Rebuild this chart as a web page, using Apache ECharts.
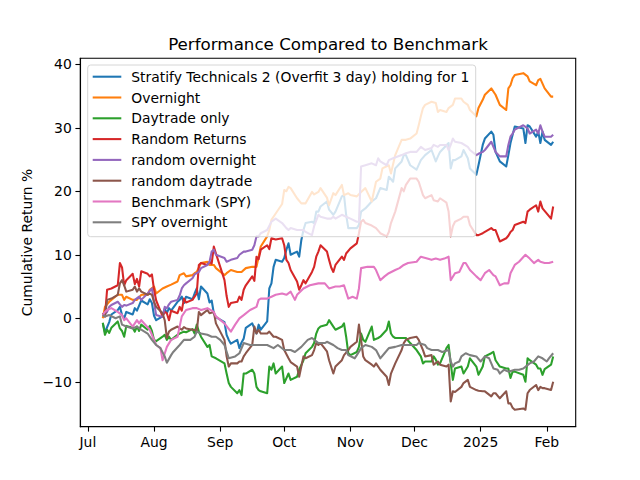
<!DOCTYPE html>
<html><head><meta charset="utf-8">
<script src="https://cdn.jsdelivr.net/npm/echarts@6/dist/echarts.min.js"></script>
<style>html,body{margin:0;padding:0;background:#fff}#c{width:640px;height:480px}</style>
</head><body><div id="c"></div>
<script>
const chartTitle = 'Performance Compared to Benchmark';
const yAxisTitle = 'Cumulative Return %';
const seriesNames = ['Stratify Technicals 2 (Overfit 3 day) holding for 1','Overnight','Daytrade only','Random Returns','random overnight','random daytrade','Benchmark (SPY)','SPY overnight'];
const xTickDates = ['2024-07-01','2024-08-01','2024-09-01','2024-10-01','2024-11-01','2024-12-01','2025-01-01','2025-02-01'];
const xTickLabels = ['Jul','Aug','Sep','Oct','Nov','Dec','2025','Feb'];
const yTicks = [-10,0,10,20,30,40];

const stratify = [['2024-07-08',-0.8],['2024-07-09',-2.2],['2024-07-11',-0.6],['2024-07-12',0.6],['2024-07-15',1.3],['2024-07-16',1.8],['2024-07-17',0.5],['2024-07-18',0.0],['2024-07-19',1.0],['2024-07-22',0.6],['2024-07-23',1.6],['2024-07-24',1.2],['2024-07-25',2.0],['2024-07-26',2.8],['2024-07-29',2.2],['2024-07-30',3.0],['2024-07-31',2.4],['2024-08-01',0.4],['2024-08-02',-0.3],['2024-08-05',0.3],['2024-08-06',1.5],['2024-08-07',0.8],['2024-08-08',1.6],['2024-08-09',1.2],['2024-08-12',2.6],['2024-08-13',2.9],['2024-08-14',3.4],['2024-08-15',2.4],['2024-08-16',3.4],['2024-08-19',3.0],['2024-08-20',3.9],['2024-08-21',4.7],['2024-08-22',3.0],['2024-08-23',5.0],['2024-08-26',3.9],['2024-08-27',2.5],['2024-08-28',2.8],['2024-08-29',0.8],['2024-08-30',0.2],['2024-09-03',-0.6],['2024-09-04',-2.6],['2024-09-05',-3.4],['2024-09-06',-4.0],['2024-09-09',-3.4],['2024-09-10',-4.7],['2024-09-11',-3.8],['2024-09-12',-3.2],['2024-09-13',-1.5],['2024-09-16',-0.8],['2024-09-17',-1.6],['2024-09-18',-2.4],['2024-09-19',-1.0],['2024-09-20',-1.8],['2024-09-23',-0.5],['2024-09-24',4.7],['2024-09-25',5.5],['2024-09-26',8.1],['2024-09-27',9.2],['2024-09-30',8.9],['2024-10-01',9.5],['2024-10-02',10.8],['2024-10-03',11.8],['2024-10-04',10.0],['2024-10-07',10.5],['2024-10-08',9.7],['2024-10-09',12.3],['2024-10-10',13.9],['2024-10-11',15.0],['2024-10-14',15.2],['2024-10-15',15.0],['2024-10-16',16.8],['2024-10-17',16.8],['2024-10-18',17.6],['2024-10-21',18.4],['2024-10-22',17.1],['2024-10-24',16.3],['2024-10-25',16.8],['2024-10-28',19.2],['2024-10-29',19.4],['2024-10-30',16.3],['2024-10-31',14.2],['2024-11-01',14.2],['2024-11-04',14.2],['2024-11-05',14.7],['2024-11-06',16.8],['2024-11-08',17.3],['2024-11-11',18.4],['2024-11-13',18.9],['2024-11-15',20.5],['2024-11-18',20.2],['2024-11-19',22.3],['2024-11-21',21.5],['2024-11-22',23.6],['2024-11-25',24.7],['2024-11-26',25.7],['2024-11-27',25.7],['2024-11-29',24.1],['2024-12-02',23.4],['2024-12-04',24.9],['2024-12-06',25.7],['2024-12-09',26.5],['2024-12-11',24.7],['2024-12-12',25.5],['2024-12-13',26.2],['2024-12-17',27.6],['2024-12-18',23.6],['2024-12-19',24.9],['2024-12-20',24.9],['2024-12-23',25.5],['2024-12-24',26.5],['2024-12-26',25.2],['2024-12-27',23.6],['2024-12-30',22.6],['2024-12-31',24.1],['2025-01-02',27.3],['2025-01-03',28.3],['2025-01-06',29.4],['2025-01-07',28.9],['2025-01-08',26.2],['2025-01-10',24.7],['2025-01-13',23.9],['2025-01-14',25.7],['2025-01-15',27.6],['2025-01-16',28.9],['2025-01-17',30.2],['2025-01-21',29.9],['2025-01-22',27.6],['2025-01-23',30.4],['2025-01-24',30.2],['2025-01-27',28.6],['2025-01-28',29.4],['2025-01-29',27.6],['2025-01-30',29.4],['2025-01-31',28.1],['2025-02-03',27.3],['2025-02-04',27.8]];

const overnight = [['2024-07-08',0.0],['2024-07-09',1.8],['2024-07-11',2.6],['2024-07-12',2.9],['2024-07-15',3.7],['2024-07-17',3.7],['2024-07-18',2.9],['2024-07-19',3.4],['2024-07-22',2.9],['2024-07-24',2.9],['2024-07-26',3.7],['2024-07-29',3.7],['2024-07-30',4.5],['2024-08-01',5.0],['2024-08-02',3.9],['2024-08-05',4.7],['2024-08-07',5.0],['2024-08-09',5.3],['2024-08-12',5.8],['2024-08-13',6.8],['2024-08-15',7.1],['2024-08-16',6.6],['2024-08-19',6.8],['2024-08-20',7.1],['2024-08-21',7.3],['2024-08-22',8.0],['2024-08-23',8.7],['2024-08-26',8.9],['2024-08-27',8.4],['2024-08-29',8.4],['2024-08-30',7.9],['2024-09-03',6.8],['2024-09-04',7.1],['2024-09-06',7.6],['2024-09-09',7.3],['2024-09-11',7.3],['2024-09-13',7.9],['2024-09-16',8.1],['2024-09-18',8.1],['2024-09-19',9.7],['2024-09-20',11.3],['2024-09-23',12.9],['2024-09-24',13.9],['2024-09-25',15.5],['2024-09-27',16.5],['2024-09-30',18.0],['2024-10-01',20.2],['2024-10-02',20.0],['2024-10-03',20.7],['2024-10-04',20.5],['2024-10-07',18.9],['2024-10-09',18.1],['2024-10-11',18.1],['2024-10-14',19.9],['2024-10-15',19.5],['2024-10-17',19.9],['2024-10-18',20.5],['2024-10-21',19.0],['2024-10-22',17.8],['2024-10-24',19.7],['2024-10-25',19.4],['2024-10-28',21.0],['2024-10-29',19.4],['2024-10-31',19.7],['2024-11-01',19.4],['2024-11-04',19.2],['2024-11-06',19.9],['2024-11-08',20.5],['2024-11-11',18.4],['2024-11-13',21.5],['2024-11-15',22.0],['2024-11-16',23.6],['2024-11-19',24.1],['2024-11-20',22.8],['2024-11-22',25.7],['2024-11-25',28.1],['2024-11-27',28.1],['2024-11-29',28.3],['2024-12-02',29.1],['2024-12-03',30.4],['2024-12-04',31.8],['2024-12-05',33.1],['2024-12-06',33.6],['2024-12-09',34.1],['2024-12-11',33.9],['2024-12-12',32.5],['2024-12-13',32.8],['2024-12-16',32.5],['2024-12-17',33.1],['2024-12-19',33.6],['2024-12-20',34.6],['2024-12-23',34.6],['2024-12-24',34.1],['2024-12-26',33.6],['2024-12-27',32.8],['2024-12-30',31.8],['2024-12-31',33.1],['2025-01-02',34.4],['2025-01-03',35.2],['2025-01-06',36.2],['2025-01-08',35.2],['2025-01-10',33.6],['2025-01-13',32.8],['2025-01-14',36.2],['2025-01-15',36.7],['2025-01-16',37.8],['2025-01-17',38.3],['2025-01-21',38.6],['2025-01-23',38.1],['2025-01-24',37.3],['2025-01-27',36.7],['2025-01-28',37.5],['2025-01-29',37.7],['2025-01-31',36.2],['2025-02-03',34.9],['2025-02-04',34.9]];

const daytrade = [['2024-07-08',-0.7],['2024-07-09',-2.6],['2024-07-10',-1.8],['2024-07-11',-2.3],['2024-07-12',-1.5],['2024-07-15',-0.5],['2024-07-16',-1.6],['2024-07-17',-2.0],['2024-07-18',-2.9],['2024-07-19',-1.2],['2024-07-22',-1.5],['2024-07-23',-2.1],['2024-07-24',-1.3],['2024-07-25',-2.0],['2024-07-26',-1.0],['2024-07-29',-1.8],['2024-07-30',-1.2],['2024-07-31',-2.0],['2024-08-01',-3.4],['2024-08-02',-3.6],['2024-08-05',-2.9],['2024-08-06',-2.6],['2024-08-07',-3.4],['2024-08-08',-2.9],['2024-08-09',-3.4],['2024-08-12',-2.6],['2024-08-13',-2.4],['2024-08-15',-2.1],['2024-08-16',-2.2],['2024-08-19',-1.7],['2024-08-20',-2.4],['2024-08-21',-1.0],['2024-08-22',-2.1],['2024-08-23',-2.9],['2024-08-26',-4.5],['2024-08-27',-4.2],['2024-08-28',-6.0],['2024-08-30',-6.3],['2024-09-03',-7.1],['2024-09-04',-8.7],['2024-09-05',-10.2],['2024-09-06',-10.8],['2024-09-09',-11.8],['2024-09-10',-11.3],['2024-09-11',-12.1],['2024-09-12',-8.7],['2024-09-13',-8.7],['2024-09-16',-8.1],['2024-09-17',-8.7],['2024-09-18',-10.8],['2024-09-19',-11.3],['2024-09-20',-11.5],['2024-09-23',-11.8],['2024-09-24',-7.6],['2024-09-25',-8.1],['2024-09-26',-7.1],['2024-09-27',-8.7],['2024-09-30',-7.6],['2024-10-01',-10.2],['2024-10-03',-8.7],['2024-10-04',-9.7],['2024-10-07',-9.2],['2024-10-08',-8.1],['2024-10-10',-6.6],['2024-10-11',-5.5],['2024-10-14',-4.5],['2024-10-15',-3.9],['2024-10-16',-2.4],['2024-10-17',-1.6],['2024-10-18',-1.3],['2024-10-21',-1.0],['2024-10-22',-0.3],['2024-10-24',-1.3],['2024-10-25',-1.8],['2024-10-28',-1.3],['2024-10-29',-0.8],['2024-10-30',-2.9],['2024-10-31',-5.5],['2024-11-01',-5.8],['2024-11-04',-5.3],['2024-11-05',-4.5],['2024-11-06',-2.4],['2024-11-07',-3.4],['2024-11-08',-3.7],['2024-11-11',-1.3],['2024-11-12',-3.4],['2024-11-14',-3.1],['2024-11-15',-2.9],['2024-11-18',-1.8],['2024-11-19',-0.5],['2024-11-20',-2.4],['2024-11-21',-2.9],['2024-11-22',-3.1],['2024-11-25',-3.1],['2024-11-27',-3.1],['2024-11-29',-3.9],['2024-12-02',-5.0],['2024-12-04',-6.0],['2024-12-05',-7.1],['2024-12-06',-6.8],['2024-12-09',-6.8],['2024-12-10',-6.0],['2024-12-11',-6.5],['2024-12-12',-7.3],['2024-12-13',-7.1],['2024-12-16',-4.7],['2024-12-17',-4.2],['2024-12-18',-7.1],['2024-12-19',-9.7],['2024-12-20',-7.9],['2024-12-23',-7.6],['2024-12-24',-8.7],['2024-12-26',-7.6],['2024-12-27',-6.3],['2024-12-30',-7.6],['2024-12-31',-8.9],['2025-01-02',-7.6],['2025-01-03',-6.0],['2025-01-06',-5.5],['2025-01-07',-5.3],['2025-01-08',-6.6],['2025-01-10',-7.6],['2025-01-13',-7.9],['2025-01-14',-7.9],['2025-01-15',-9.4],['2025-01-16',-8.4],['2025-01-17',-8.4],['2025-01-21',-8.9],['2025-01-22',-10.0],['2025-01-23',-6.3],['2025-01-24',-6.6],['2025-01-27',-7.3],['2025-01-28',-7.9],['2025-01-29',-7.9],['2025-01-30',-8.9],['2025-01-31',-8.0],['2025-02-03',-7.3],['2025-02-04',-6.0]];

const randomReturns = [['2024-07-08',0.8],['2024-07-09',0.3],['2024-07-10',4.5],['2024-07-12',4.7],['2024-07-15',5.2],['2024-07-16',8.7],['2024-07-17',8.0],['2024-07-18',5.2],['2024-07-19',6.0],['2024-07-22',7.0],['2024-07-23',5.4],['2024-07-24',6.2],['2024-07-25',5.0],['2024-07-26',7.4],['2024-07-29',7.0],['2024-07-30',6.6],['2024-07-31',6.9],['2024-08-01',4.5],['2024-08-02',2.8],['2024-08-05',0.3],['2024-08-06',1.0],['2024-08-07',0.8],['2024-08-08',-0.3],['2024-08-09',1.2],['2024-08-12',0.8],['2024-08-13',1.8],['2024-08-14',1.2],['2024-08-15',3.1],['2024-08-16',2.5],['2024-08-19',2.9],['2024-08-20',3.4],['2024-08-21',3.9],['2024-08-22',8.4],['2024-08-23',8.7],['2024-08-26',8.4],['2024-08-27',8.9],['2024-08-28',8.6],['2024-08-29',11.3],['2024-08-30',10.2],['2024-09-03',6.0],['2024-09-04',3.5],['2024-09-05',1.8],['2024-09-06',2.4],['2024-09-09',2.6],['2024-09-10',3.4],['2024-09-11',2.9],['2024-09-12',4.5],['2024-09-13',5.2],['2024-09-16',6.6],['2024-09-17',5.9],['2024-09-18',9.7],['2024-09-19',9.3],['2024-09-20',10.8],['2024-09-23',11.5],['2024-09-24',10.9],['2024-09-25',12.6],['2024-09-27',12.4],['2024-09-30',12.6],['2024-10-01',11.5],['2024-10-02',9.2],['2024-10-03',8.7],['2024-10-04',7.6],['2024-10-07',5.8],['2024-10-08',4.5],['2024-10-09',5.2],['2024-10-10',6.0],['2024-10-11',5.5],['2024-10-14',7.3],['2024-10-15',8.1],['2024-10-16',9.7],['2024-10-17',10.5],['2024-10-18',11.5],['2024-10-21',10.5],['2024-10-22',9.2],['2024-10-23',8.0],['2024-10-24',7.3],['2024-10-25',8.4],['2024-10-28',9.7],['2024-10-29',9.2],['2024-10-30',10.2],['2024-11-01',11.0],['2024-11-04',11.8],['2024-11-05',13.4],['2024-11-06',15.2],['2024-11-07',15.5],['2024-11-08',15.0],['2024-11-11',14.6],['2024-11-13',14.2],['2024-11-15',13.4],['2024-11-18',12.9],['2024-11-19',13.6],['2024-11-20',15.0],['2024-11-22',16.8],['2024-11-25',20.5],['2024-11-26',20.0],['2024-11-27',21.0],['2024-11-29',22.0],['2024-12-02',22.0],['2024-12-03',21.5],['2024-12-05',19.4],['2024-12-06',18.9],['2024-12-09',19.4],['2024-12-10',18.6],['2024-12-12',18.4],['2024-12-13',18.9],['2024-12-16',18.2],['2024-12-17',16.8],['2024-12-18',12.9],['2024-12-19',14.5],['2024-12-20',15.2],['2024-12-23',15.7],['2024-12-24',16.0],['2024-12-26',16.0],['2024-12-27',14.7],['2024-12-30',13.1],['2024-12-31',13.1],['2025-01-02',13.4],['2025-01-03',13.6],['2025-01-06',14.2],['2025-01-07',13.9],['2025-01-08',13.9],['2025-01-10',12.1],['2025-01-13',12.6],['2025-01-14',13.0],['2025-01-15',13.6],['2025-01-16',13.9],['2025-01-17',14.7],['2025-01-21',15.2],['2025-01-22',15.0],['2025-01-23',16.8],['2025-01-24',17.1],['2025-01-27',17.8],['2025-01-28',16.8],['2025-01-29',18.4],['2025-01-30',17.3],['2025-02-03',15.7],['2025-02-04',17.6]];

const randomOvernight = [['2024-07-08',0.3],['2024-07-10',1.0],['2024-07-11',1.8],['2024-07-12',2.1],['2024-07-15',2.6],['2024-07-16',2.2],['2024-07-17',1.8],['2024-07-18',2.1],['2024-07-19',2.0],['2024-07-22',2.4],['2024-07-23',2.9],['2024-07-25',3.4],['2024-07-26',2.9],['2024-07-29',3.9],['2024-07-31',4.7],['2024-08-01',2.5],['2024-08-02',0.5],['2024-08-05',0.2],['2024-08-06',1.8],['2024-08-07',1.6],['2024-08-08',2.2],['2024-08-09',2.6],['2024-08-12',2.9],['2024-08-13',3.6],['2024-08-14',4.7],['2024-08-15',5.2],['2024-08-16',5.5],['2024-08-19',6.3],['2024-08-20',6.9],['2024-08-22',7.3],['2024-08-23',7.9],['2024-08-26',8.4],['2024-08-27',8.9],['2024-08-28',10.5],['2024-08-29',10.8],['2024-08-30',10.0],['2024-09-03',9.5],['2024-09-04',8.9],['2024-09-06',9.2],['2024-09-09',9.5],['2024-09-10',10.0],['2024-09-12',10.5],['2024-09-13',10.5],['2024-09-16',10.8],['2024-09-17',11.5],['2024-09-18',12.9],['2024-09-19',12.9],['2024-09-20',13.4],['2024-09-23',13.9],['2024-09-25',15.2],['2024-09-27',15.7],['2024-09-30',15.0],['2024-10-02',14.2],['2024-10-03',13.9],['2024-10-04',14.2],['2024-10-07',13.9],['2024-10-10',13.9],['2024-10-11',13.6],['2024-10-14',13.1],['2024-10-15',14.5],['2024-10-17',16.3],['2024-10-18',16.0],['2024-10-21',15.7],['2024-10-23',15.7],['2024-10-24',16.0],['2024-10-25',15.7],['2024-10-28',16.3],['2024-10-30',16.0],['2024-11-01',15.7],['2024-11-04',15.2],['2024-11-05',15.2],['2024-11-06',23.9],['2024-11-08',24.1],['2024-11-11',24.4],['2024-11-13',24.1],['2024-11-14',25.2],['2024-11-15',24.7],['2024-11-18',24.1],['2024-11-19',24.9],['2024-11-21',25.2],['2024-11-25',25.7],['2024-11-27',26.0],['2024-11-29',26.2],['2024-12-02',26.2],['2024-12-04',27.0],['2024-12-06',26.5],['2024-12-09',26.8],['2024-12-10',27.3],['2024-12-12',27.0],['2024-12-13',27.3],['2024-12-16',27.3],['2024-12-17',26.5],['2024-12-18',27.3],['2024-12-19',28.3],['2024-12-20',27.8],['2024-12-23',27.6],['2024-12-26',27.0],['2024-12-27',26.5],['2024-12-30',25.7],['2024-12-31',25.9],['2025-01-02',26.2],['2025-01-03',26.5],['2025-01-06',27.8],['2025-01-08',26.2],['2025-01-10',25.5],['2025-01-13',25.5],['2025-01-14',27.3],['2025-01-15',28.6],['2025-01-16',29.1],['2025-01-17',29.7],['2025-01-21',30.4],['2025-01-23',29.9],['2025-01-24',29.1],['2025-01-27',29.7],['2025-01-28',29.1],['2025-01-29',30.4],['2025-01-30',29.4],['2025-01-31',28.6],['2025-02-03',28.6],['2025-02-04',28.9]];

const randomDaytrade = [['2024-07-08',0.8],['2024-07-09',0.3],['2024-07-10',2.9],['2024-07-12',3.1],['2024-07-15',3.7],['2024-07-16',5.5],['2024-07-17',6.0],['2024-07-18',5.2],['2024-07-19',4.2],['2024-07-22',4.5],['2024-07-23',5.0],['2024-07-24',4.2],['2024-07-25',4.7],['2024-07-26',4.2],['2024-07-29',3.7],['2024-07-30',3.9],['2024-07-31',3.7],['2024-08-01',2.6],['2024-08-02',1.8],['2024-08-05',0.8],['2024-08-06',-0.3],['2024-08-07',-3.1],['2024-08-08',-2.1],['2024-08-09',-1.8],['2024-08-12',-1.3],['2024-08-13',-1.6],['2024-08-14',-1.8],['2024-08-15',-1.4],['2024-08-16',-1.6],['2024-08-19',-1.8],['2024-08-20',-1.8],['2024-08-21',-2.1],['2024-08-22',1.0],['2024-08-23',0.5],['2024-08-26',1.3],['2024-08-27',0.8],['2024-08-29',1.0],['2024-08-30',-0.8],['2024-09-03',-3.4],['2024-09-04',-6.0],['2024-09-05',-7.6],['2024-09-06',-7.1],['2024-09-09',-7.1],['2024-09-10',-6.8],['2024-09-11',-6.8],['2024-09-12',-6.0],['2024-09-13',-5.5],['2024-09-16',-4.2],['2024-09-17',-1.3],['2024-09-18',-2.4],['2024-09-19',-1.8],['2024-09-20',-2.4],['2024-09-23',-2.4],['2024-09-24',-2.1],['2024-09-26',-2.9],['2024-09-27',-2.9],['2024-09-30',-3.4],['2024-10-01',-5.0],['2024-10-03',-6.3],['2024-10-04',-6.9],['2024-10-07',-7.6],['2024-10-08',-9.2],['2024-10-09',-7.6],['2024-10-10',-6.0],['2024-10-11',-6.3],['2024-10-14',-5.8],['2024-10-15',-5.0],['2024-10-16',-3.9],['2024-10-17',-4.2],['2024-10-18',-3.9],['2024-10-21',-5.2],['2024-10-22',-6.6],['2024-10-24',-8.7],['2024-10-25',-7.6],['2024-10-28',-6.6],['2024-10-29',-5.8],['2024-10-31',-5.0],['2024-11-01',-4.5],['2024-11-04',-3.7],['2024-11-05',-1.0],['2024-11-06',-3.4],['2024-11-07',-6.0],['2024-11-08',-6.6],['2024-11-11',-7.3],['2024-11-12',-7.6],['2024-11-13',-7.1],['2024-11-15',-8.1],['2024-11-18',-9.2],['2024-11-19',-10.5],['2024-11-20',-8.7],['2024-11-22',-7.1],['2024-11-25',-5.0],['2024-11-26',-3.9],['2024-11-27',-3.4],['2024-11-29',-3.1],['2024-12-02',-2.9],['2024-12-03',-3.4],['2024-12-05',-5.0],['2024-12-06',-6.0],['2024-12-09',-5.8],['2024-12-10',-7.3],['2024-12-12',-6.8],['2024-12-13',-7.3],['2024-12-16',-7.6],['2024-12-17',-7.3],['2024-12-18',-13.1],['2024-12-19',-11.5],['2024-12-20',-11.6],['2024-12-23',-10.8],['2024-12-24',-10.2],['2024-12-26',-9.7],['2024-12-27',-10.8],['2024-12-30',-11.3],['2024-12-31',-11.4],['2025-01-02',-11.5],['2025-01-03',-11.5],['2025-01-06',-12.3],['2025-01-07',-11.8],['2025-01-08',-11.8],['2025-01-10',-12.6],['2025-01-13',-11.5],['2025-01-14',-13.4],['2025-01-15',-13.4],['2025-01-16',-14.1],['2025-01-17',-14.4],['2025-01-21',-14.2],['2025-01-22',-14.4],['2025-01-23',-11.8],['2025-01-24',-11.3],['2025-01-27',-10.5],['2025-01-28',-11.3],['2025-01-29',-10.8],['2025-01-30',-11.0],['2025-01-31',-11.0],['2025-02-03',-11.3],['2025-02-04',-10.0]];

const benchmark = [['2024-07-08',0.5],['2024-07-09',1.0],['2024-07-10',1.3],['2024-07-12',1.6],['2024-07-15',1.0],['2024-07-17',0.5],['2024-07-18',-0.3],['2024-07-19',0.0],['2024-07-22',-1.3],['2024-07-24',-0.3],['2024-07-25',-0.8],['2024-07-26',-0.3],['2024-07-30',-1.8],['2024-08-01',-3.4],['2024-08-02',-4.2],['2024-08-04',-4.7],['2024-08-05',-6.6],['2024-08-07',-4.5],['2024-08-09',-3.4],['2024-08-12',-2.9],['2024-08-14',0.3],['2024-08-16',1.3],['2024-08-19',1.6],['2024-08-21',1.6],['2024-08-23',1.3],['2024-08-26',1.6],['2024-08-29',1.0],['2024-08-30',0.3],['2024-09-03',-0.8],['2024-09-06',-2.1],['2024-09-08',-1.0],['2024-09-10',0.0],['2024-09-12',0.5],['2024-09-15',1.3],['2024-09-18',1.8],['2024-09-19',2.9],['2024-09-20',3.1],['2024-09-23',3.1],['2024-09-25',3.4],['2024-09-27',3.7],['2024-09-30',3.9],['2024-10-02',3.7],['2024-10-04',4.2],['2024-10-06',2.9],['2024-10-07',3.7],['2024-10-10',4.7],['2024-10-13',5.2],['2024-10-17',5.5],['2024-10-20',5.5],['2024-10-22',4.7],['2024-10-25',5.0],['2024-10-27',5.0],['2024-10-29',5.2],['2024-10-31',3.1],['2024-11-02',3.4],['2024-11-04',3.1],['2024-11-05',4.7],['2024-11-06',7.9],['2024-11-09',8.1],['2024-11-12',8.1],['2024-11-13',7.6],['2024-11-15',6.0],['2024-11-17',6.6],['2024-11-19',7.1],['2024-11-22',7.6],['2024-11-24',7.9],['2024-11-26',8.4],['2024-11-28',8.7],['2024-12-02',8.9],['2024-12-04',9.7],['2024-12-07',9.4],['2024-12-09',9.2],['2024-12-11',9.4],['2024-12-13',9.2],['2024-12-15',9.4],['2024-12-17',9.7],['2024-12-18',6.0],['2024-12-20',7.1],['2024-12-22',7.3],['2024-12-24',8.7],['2024-12-25',8.7],['2024-12-27',7.6],['2024-12-30',6.6],['2025-01-01',6.0],['2025-01-03',7.1],['2025-01-05',7.6],['2025-01-07',6.8],['2025-01-08',6.6],['2025-01-10',5.2],['2025-01-12',5.5],['2025-01-14',5.5],['2025-01-15',7.1],['2025-01-17',8.4],['2025-01-19',8.9],['2025-01-22',10.0],['2025-01-24',9.4],['2025-01-26',8.7],['2025-01-28',9.2],['2025-01-29',8.9],['2025-01-31',8.7],['2025-02-02',8.7],['2025-02-04',8.9]];

const spyOvernight = [['2024-07-08',0.5],['2024-07-09',0.3],['2024-07-11',0.5],['2024-07-14',0.0],['2024-07-16',0.3],['2024-07-17',-1.0],['2024-07-19',-1.3],['2024-07-22',-1.6],['2024-07-24',-1.3],['2024-07-26',-1.8],['2024-07-29',-2.4],['2024-07-31',-3.4],['2024-08-02',-4.2],['2024-08-04',-4.7],['2024-08-06',-6.0],['2024-08-07',-7.0],['2024-08-09',-5.8],['2024-08-10',-5.3],['2024-08-13',-4.2],['2024-08-15',-3.4],['2024-08-18',-3.4],['2024-08-20',-2.9],['2024-08-21',-2.1],['2024-08-23',-2.4],['2024-08-26',-2.6],['2024-08-28',-2.9],['2024-08-30',-2.9],['2024-09-01',-3.4],['2024-09-03',-4.2],['2024-09-05',-6.3],['2024-09-08',-6.0],['2024-09-10',-5.5],['2024-09-12',-3.9],['2024-09-15',-4.2],['2024-09-17',-4.2],['2024-09-20',-4.2],['2024-09-23',-4.2],['2024-09-26',-4.7],['2024-09-28',-4.2],['2024-10-01',-5.0],['2024-10-04',-5.0],['2024-10-06',-5.3],['2024-10-09',-4.5],['2024-10-12',-3.4],['2024-10-14',-3.1],['2024-10-17',-3.9],['2024-10-20',-3.9],['2024-10-21',-3.7],['2024-10-24',-4.2],['2024-10-26',-4.7],['2024-10-28',-5.0],['2024-10-30',-5.0],['2024-10-31',-5.8],['2024-11-03',-6.3],['2024-11-04',-5.8],['2024-11-06',-4.7],['2024-11-08',-4.2],['2024-11-11',-4.5],['2024-11-13',-5.0],['2024-11-15',-6.3],['2024-11-17',-5.5],['2024-11-19',-4.7],['2024-11-22',-4.5],['2024-11-25',-4.2],['2024-11-28',-4.2],['2024-12-02',-4.2],['2024-12-03',-3.9],['2024-12-06',-4.2],['2024-12-07',-4.7],['2024-12-09',-5.0],['2024-12-12',-5.0],['2024-12-14',-5.3],['2024-12-17',-5.0],['2024-12-18',-6.8],['2024-12-19',-7.6],['2024-12-20',-7.1],['2024-12-22',-6.8],['2024-12-23',-6.0],['2024-12-25',-5.5],['2024-12-27',-5.8],['2024-12-30',-6.0],['2025-01-01',-6.8],['2025-01-03',-6.0],['2025-01-05',-6.3],['2025-01-07',-7.9],['2025-01-09',-8.1],['2025-01-10',-8.7],['2025-01-12',-8.1],['2025-01-14',-8.4],['2025-01-17',-8.1],['2025-01-19',-8.1],['2025-01-21',-7.9],['2025-01-24',-7.1],['2025-01-26',-6.8],['2025-01-28',-6.0],['2025-01-30',-6.3],['2025-02-01',-6.8],['2025-02-02',-6.3],['2025-02-04',-5.5]];

const palette = ['#1f77b4','#ff7f0e','#2ca02c','#d62728','#9467bd','#8c564b','#e377c2','#7f7f7f'];
const allSeries = [stratify, overnight, daytrade, randomReturns, randomOvernight, randomDaytrade, benchmark, spyOvernight];

function ts(s){ const p = s.split('-'); return new Date(+p[0], +p[1]-1, +p[2]).getTime(); }
let tMin = Infinity, tMax = -Infinity;
allSeries.forEach(s => s.forEach(p => { const t = ts(p[0]); if (t < tMin) tMin = t; if (t > tMax) tMax = t; }));
const tPad = (tMax - tMin) * 0.05;
const xTickTs = xTickDates.map(ts);
const xLabelMap = {}; xTickTs.forEach((t,i)=>{ xLabelMap[t] = xTickLabels[i]; });

const FONT = 'DejaVu Sans';
const gL = 80.3, gT = 58.3, gW = 495.4, gH = 368.4;

const legendX = 87.7, legendY = 65, legendW = 388, legendH = 171.7, rowY0 = 76.7, rowStep = 20.8;
const legendEls = [{ type:'rect', z:100, shape:{x:legendX, y:legendY, width:legendW, height:legendH, r:3}, style:{fill:'rgba(255,255,255,0.8)', stroke:'#d6d6d6', lineWidth:1} }];
seriesNames.forEach((n,i)=>{
  const y = rowY0 + i*rowStep;
  legendEls.push({ type:'line', z:101, shape:{x1:92.7, y1:y, x2:121.3, y2:y}, style:{stroke:palette[i], lineWidth:2.08} });
  legendEls.push({ type:'text', z:101, x:131.3, y:y, style:{text:n, fill:'#000', fontSize:13.9, fontFamily:FONT, align:'left', verticalAlign:'middle'} });
});

const chart = echarts.init(document.getElementById('c'), null, {renderer:'svg', width:640, height:480});
chart.setOption({
  animation:false,
  backgroundColor:'#ffffff',
  grid:{ left:gL, top:gT, width:gW, height:gH, show:true, borderColor:'#000', borderWidth:1.1, backgroundColor:'transparent' },
  xAxis:{ type:'value', min:tMin - tPad, max:tMax + tPad, scale:true,
    axisLine:{show:true, onZero:false, lineStyle:{color:'#000', width:1.1}},
    axisTick:{show:true, length:4.9, lineStyle:{color:'#000', width:1.1}, customValues:xTickTs},
    axisLabel:{show:true, customValues:xTickTs, formatter:v=>xLabelMap[v] || '', color:'#000', fontSize:13.9, fontFamily:FONT, margin:8.5},
    splitLine:{show:false}, minorTick:{show:false} },
  yAxis:{ type:'value', min:-17.07, max:40.94,
    axisLine:{show:true, lineStyle:{color:'#000', width:1.1}},
    axisTick:{show:true, length:4.9, lineStyle:{color:'#000', width:1.1}, customValues:yTicks},
    axisLabel:{show:true, customValues:yTicks, formatter:v=> v < 0 ? '\u2212' + Math.abs(v) : String(v), color:'#000', fontSize:13.9, fontFamily:FONT, margin:8.5},
    splitLine:{show:false} },
  series: allSeries.map((s,i)=>({
    type:'line', name:seriesNames[i], data:s.map(p=>[ts(p[0]), p[1]]),
    showSymbol:false, symbol:'none', clip:true, z:2,
    lineStyle:{width:2.08, color:palette[i], join:'round'}, itemStyle:{color:palette[i]},
    emphasis:{disabled:true}
  })),
  graphic:[
    { type:'text', z:100, x:gL + gW/2, y:43.5, style:{text:chartTitle, fill:'#000', fontSize:16.7, fontFamily:FONT, align:'center', verticalAlign:'middle'} },
    { type:'text', z:100, x:27, y:gT + gH/2, rotation:Math.PI/2, style:{text:yAxisTitle, fill:'#000', fontSize:13.9, fontFamily:FONT, align:'center', verticalAlign:'middle'} },
    { type:'group', z:100, children:legendEls }
  ]
});
</script>
</body></html>
